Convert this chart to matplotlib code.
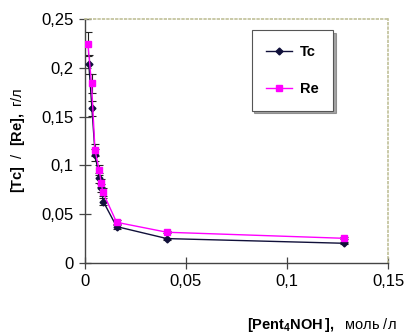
import matplotlib
matplotlib.use('Agg')
import matplotlib.pyplot as plt
from matplotlib.ticker import FuncFormatter, MultipleLocator

plt.rcParams['font.family'] = ['Liberation Sans', 'DejaVu Sans']
plt.rcParams['mathtext.fontset'] = 'custom'
plt.rcParams['mathtext.rm'] = 'Liberation Sans'
plt.rcParams['mathtext.bf'] = 'Liberation Sans:bold'

# concentration of Pent4NOH, mol/l
x_tc = [0.0020, 0.0035, 0.0051, 0.0071, 0.0081, 0.0091, 0.0157, 0.0406, 0.128]
tc = [0.2036, 0.1585, 0.1110, 0.0868, 0.0770, 0.0630, 0.0373, 0.0250, 0.0202]
tc_err = [0.010, 0.008, 0.006, 0.005, 0.004, 0.004, 0.002, 0.001, 0.001]

x_re = [0.0015, 0.0033, 0.0050, 0.0071, 0.0081, 0.0089, 0.0157, 0.0406, 0.128]
re = [0.2245, 0.1840, 0.1160, 0.0950, 0.0820, 0.0725, 0.0417, 0.0315, 0.0253]
re_err = [0.012, 0.010, 0.006, 0.005, 0.004, 0.004, 0.002, 0.001, 0.001]

fig = plt.figure(figsize=(4.06, 3.35), dpi=100)
ax = fig.add_axes([0.209, 0.215, 0.747, 0.728])

ax.errorbar(x_tc, tc, yerr=tc_err, fmt='none', ecolor='#222222', elinewidth=0.8,
            capsize=3, capthick=0.8, zorder=2)
ax.errorbar(x_re, re, yerr=re_err, fmt='none', ecolor='#222222', elinewidth=0.8,
            capsize=3, capthick=0.8, zorder=2)
ax.plot(x_tc, tc, color='#10103a', lw=1.0, marker='D', ms=3.5,
        mfc='#10103a', mec='#10103a', label='Tc', zorder=3)
ax.plot(x_re, re, color='#ff00ff', lw=1.0, marker='s', ms=4.5,
        mfc='#ff00ff', mec='#ff00ff', label='Re', zorder=3)

ax.set_xlim(0, 0.15)
ax.set_ylim(0, 0.25)
ax.xaxis.set_major_locator(MultipleLocator(0.05))
ax.yaxis.set_major_locator(MultipleLocator(0.05))
fmt = FuncFormatter(lambda v, p: ('%g' % round(v, 3)).replace('.', ','))
ax.xaxis.set_major_formatter(fmt)
ax.yaxis.set_major_formatter(fmt)
ax.tick_params(axis='both', direction='inout', length=8, width=0.9,
               color='#444444', labelsize=12, pad=4)

for s in ['top', 'right']:
    ax.spines[s].set_color('#c0c098')
    ax.spines[s].set_linestyle(':')
    ax.spines[s].set_linewidth(1.2)
for s in ['left', 'bottom']:
    ax.spines[s].set_color('#444444')
    ax.spines[s].set_linewidth(1.0)

leg = ax.legend(loc='upper left', bbox_to_anchor=(0.55, 0.955),
                prop={'size': 10.5, 'weight': 'bold'},
                labelspacing=1.6, handlelength=1.8, borderpad=1.0,
                handletextpad=0.5, borderaxespad=0, fancybox=False, shadow=True,
                edgecolor='#555555', framealpha=1)
leg.get_frame().set_linewidth(0.8)

fig.text(0.045, 0.58, r'$\mathbf{[Tc]}$  /  $\mathbf{[Re],}$ г/л',
         rotation=90, ha='center', va='center', fontsize=10.5)
fig.text(0.978, 0.03, r'$\mathbf{[Pent_4NOH\,],}$  моль /л',
         ha='right', va='center', fontsize=10.5)

fig.savefig('out.png', dpi=100)
